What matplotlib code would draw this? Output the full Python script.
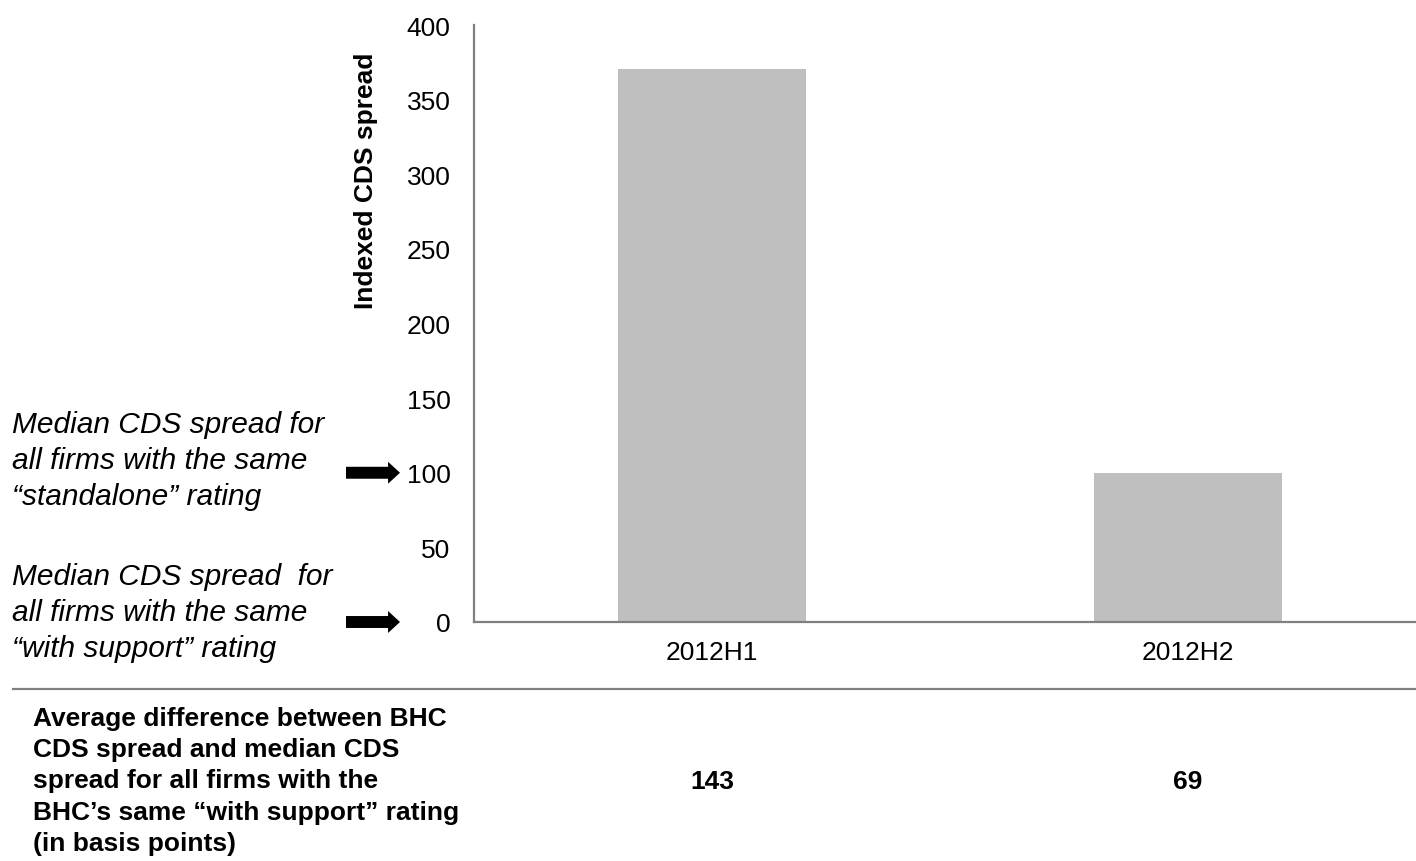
import matplotlib
matplotlib.use("Agg")
import matplotlib.pyplot as plt
from matplotlib.lines import Line2D
from matplotlib import transforms

plt.rcParams['font.family'] = ['Liberation Sans', 'DejaVu Sans']

categories = ["2012H1", "2012H2"]
indexed_spread = [370.5, 100]
avg_difference = ["143", "69"]
y_ticks = [0, 50, 100, 150, 200, 250, 300, 350, 400]
ylabel = "Indexed CDS spread"
note_standalone = "Median CDS spread for\nall firms with the same\n\u201cstandalone\u201d rating"
note_support = "Median CDS spread  for\nall firms with the same\n\u201cwith support\u201d rating"
arrow_levels = [100, 0]
bottom_label = ("Average difference between BHC\nCDS spread and median CDS\n"
                "spread for all firms with the\nBHC\u2019s same \u201cwith support\u201d rating\n"
                "(in basis points)")

W, H = 1416, 862
fig = plt.figure(figsize=(W / 100, H / 100), dpi=100)
ax = fig.add_axes([474 / W, 239 / H, 952 / W, 597 / H])

x = list(range(len(categories)))
ax.bar(x, indexed_spread, width=0.395, color='#bfbfbf', zorder=2)
ax.set_xlim(-0.5, 1.5)
ax.set_ylim(0, 400)
ax.set_yticks(y_ticks)
ax.set_xticks(x)
ax.set_xticklabels(categories)
ax.tick_params(axis='both', length=0, labelsize=19, colors='black')
ax.tick_params(axis='y', pad=17)
ax.tick_params(axis='x', pad=13)
for s in ['top', 'right']:
    ax.spines[s].set_visible(False)
for s in ['left', 'bottom']:
    ax.spines[s].set_color('#808080')
    ax.spines[s].set_linewidth(1.6)

ax.set_ylabel(ylabel, fontsize=19, fontweight='bold')
ax.yaxis.set_label_coords(-0.101, 0.74)

# left notes
fig.text(12 / W, 1 - 461 / H, note_standalone, fontsize=21.5, style='italic',
         va='center', ha='left', linespacing=1.375)
fig.text(12 / W, 1 - 613 / H, note_support, fontsize=21.5, style='italic',
         va='center', ha='left', linespacing=1.375)

# arrows
for lvl in arrow_levels:
    ax.annotate('', xy=(400, lvl), xytext=(346, lvl),
                xycoords=('figure pixels', 'data'),
                textcoords=('figure pixels', 'data'),
                arrowprops=dict(arrowstyle='simple,head_length=0.86,head_width=1.58,tail_width=0.86',
                                mutation_scale=10, fc='black', ec='none', lw=0,
                                shrinkA=0, shrinkB=0),
                annotation_clip=False)

# separator line
fig.add_artist(Line2D([13 / W, 1.0], [1 - 690 / H, 1 - 690 / H], color='#808080', lw=1.6))

# bottom table
fig.text(33 / W, 1 - 781.5 / H, bottom_label, fontsize=19, fontweight='bold',
         va='center', ha='left', linespacing=1.39)
trans = transforms.blended_transform_factory(ax.transData, fig.transFigure)
for xi, val in zip(x, avg_difference):
    ax.text(xi, 1 - 782 / H, val, transform=trans, fontsize=19, fontweight='bold',
            family=['Liberation Sans Narrow', 'Liberation Sans'],
            ha='center', va='center', clip_on=False)

fig.savefig('out.png', dpi=100)
